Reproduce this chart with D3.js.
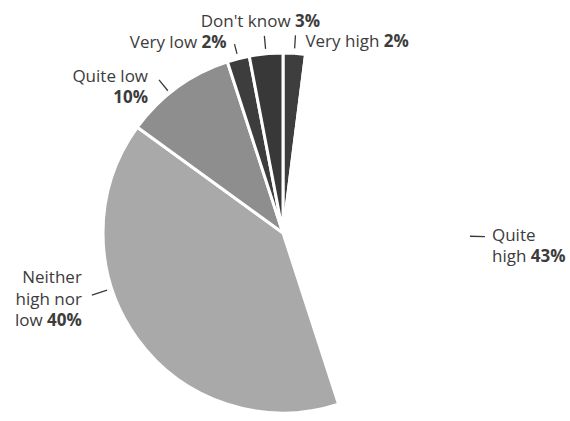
<!DOCTYPE html>
<html>
<head>
<meta charset="utf-8">
<script src="https://cdn.jsdelivr.net/npm/d3@7"></script>
<style>
  html, body { margin: 0; padding: 0; background: #fff; }
  svg { display: block; }
  text { font-family: "Open Sans", "Noto Sans", sans-serif; fill: #3c3c3c; }
</style>
</head>
<body>
<svg id="chart" width="570" height="421"></svg>
<script>
// ---- data ----
const categories = ["Very high", "Quite high", "Neither high nor low", "Quite low", "Very low", "Don't know"];
const values = [2, 43, 40, 10, 2, 3];
const labelLines = [
  ["Very high"],
  ["Quite", "high"],
  ["Neither", "high nor", "low"],
  ["Quite low", ""],
  ["Very low"],
  ["Don't know"]
];
const sliceColors = ["#3e3e3e", "#ffffff", "#a9a9a9", "#8e8e8e", "#3d3d3d", "#383838"];

// ---- layout (not data) ----
const W = 570, H = 421;
const cx = 283, cy = 233, R = 180;
// label layout: leader angle override (deg, clockwise from top), leader radii, text offset, anchor
const labelLayout = [
  { r1: 185, r2: 198, dx: 10, dy: 12, anchor: "start" },
  { angle: 91, r1: 187, r2: 202, dx: 7, dy: 4, anchor: "start" },
  { angle: 252, r1: 185, r2: 201, dx: -10, dy: -12, anchor: "end" },
  { angle: 321, r1: 183, r2: 197, dx: -11, dy: 2, anchor: "end" },
  { r1: 185, r2: 195, dx: -8, dy: 4, anchor: "end" },
  { r1: 185, r2: 198, dx: -4, dy: -9, anchor: "middle" }
];
const lineHeight = 21.5;
const fontSize = 17;

const svg = d3.select("#chart");
const g = svg.append("g").attr("transform", `translate(${cx},${cy})`);

const pie = d3.pie().sort(null).value(d => d.value);
const data = categories.map((c, i) => ({ cat: c, value: values[i], i }));
const arcs = pie(data);
const arc = d3.arc().innerRadius(0).outerRadius(R);

g.selectAll("path.slice")
  .data(arcs)
  .join("path")
  .attr("class", "slice")
  .attr("d", arc)
  .attr("fill", d => sliceColors[d.data.i])
  .attr("stroke", "#ffffff")
  .attr("stroke-width", 3)
  .attr("stroke-linejoin", "round");

const toRad = a => a * Math.PI / 180;
const pt = (ang, r) => [Math.sin(ang) * r, -Math.cos(ang) * r];

arcs.forEach(d => {
  const i = d.data.i;
  const L = labelLayout[i];
  const ang = L.angle !== undefined ? toRad(L.angle) : (d.startAngle + d.endAngle) / 2;
  const p1 = pt(ang, L.r1), p2 = pt(ang, L.r2);
  g.append("line")
    .attr("x1", p1[0]).attr("y1", p1[1])
    .attr("x2", p2[0]).attr("y2", p2[1])
    .attr("stroke", "#3a3a3a").attr("stroke-width", 1.3);

  const lines = labelLines[i];
  const t = g.append("text")
    .attr("x", p2[0] + L.dx)
    .attr("y", p2[1] + L.dy)
    .attr("text-anchor", L.anchor)
    .attr("font-size", fontSize);
  lines.forEach((ln, k) => {
    const ts = t.append("tspan")
      .attr("x", p2[0] + L.dx)
      .attr("dy", k === 0 ? 0 : lineHeight);
    const last = k === lines.length - 1;
    if (ln) ts.append("tspan").text(last ? ln + " " : ln);
    if (last) ts.append("tspan").attr("font-weight", "bold").text(d.data.value + "%");
  });
});
</script>
</body>
</html>
